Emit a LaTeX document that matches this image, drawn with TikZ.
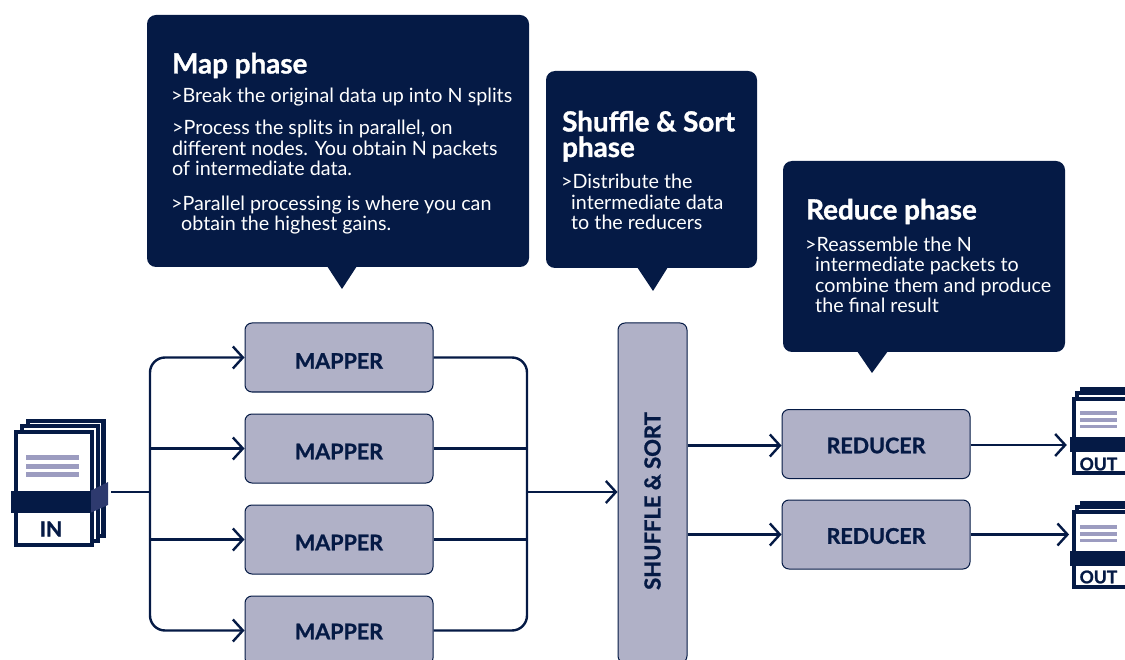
\documentclass[tikz,border=0pt]{standalone}
\usepackage{fontspec}
\setmainfont{Lato}[BoldFeatures={FakeBold=1.2}]
\usetikzlibrary{arrows.meta}
\definecolor{navy}{HTML}{051A45}
\definecolor{boxfill}{HTML}{B0B1C7}
\definecolor{linefill}{HTML}{9C9CC0}
\definecolor{bandside}{HTML}{2E3A6E}
\newcommand{\lowertext}[2]{\raisebox{-#1}[15.5pt][0pt]{#2}}
\tikzset{
  x=1pt,y=-1pt,
  callout/.style={fill=navy,draw=none,rounded corners=9pt},
  title/.style={anchor=base west,inner sep=0pt,text=white,align=left,font=\fontsize{27.8}{25.5}\selectfont\bfseries},
  body/.style={anchor=base west,inner sep=0pt,text=white,align=left,font=\fontsize{19.7}{20.5}\selectfont},
  procbox/.style={fill=boxfill,draw=navy,line width=1pt,rounded corners=7pt,minimum width=188pt,minimum height=69pt,inner sep=0pt,text=navy,font=\fontsize{21.5}{21.5}\selectfont\bfseries},
  conn/.style={draw=navy,line width=2.4pt},
  arr/.style={conn,-{Straight Barb[length=10pt,width=22pt,line width=2.4pt]}},
  page/.style={fill=white,draw=navy,line width=3.8pt,inner sep=0pt},
  band/.style={fill=navy,draw=none,inner sep=0pt},
  rule/.style={fill=linefill,draw=none},
  doclabel/.style={inner sep=0pt,text=navy,font=\fontsize{21}{21}\selectfont\bfseries}
}
\begin{document}
\begin{tikzpicture}
\useasboundingbox (0,0) rectangle (1125,660);
\clip (0,0) rectangle (1125,660);
% callouts
\fill[callout] (147,15) rectangle (529,267);
\fill[navy] (327,266) -- (357,266) -- (342,289) -- cycle;
\fill[callout] (546,71) rectangle (757,268);
\fill[navy] (637,267) -- (668,267) -- (653,291) -- cycle;
\fill[callout] (783,161) rectangle (1065,352);
\fill[navy] (857,351) -- (888,351) -- (872,373) -- cycle;
% map text
\node[title] (t1) at (172,73.5) {Map phase};
\node[body] (b1) at (171,103) {>Break the original data up into N splits};
\node[body] (b2) at (172,176) {>Process the splits in parallel, on\\different nodes. You obtain N packets\\of intermediate data.};
\node[body] (b3) at (171,231) {>Parallel processing is where you can\\\hspace*{10pt}obtain the highest gains.};
% shuffle text
\node[title] (t2) at (562,157) {Shuffle \& Sort\\phase};
\node[body] (b4) at (561,230) {>Distribute the\\\hspace*{10pt}intermediate data\\\hspace*{10pt}to the reducers};
% reduce text
\node[title] (t3) at (806,219.5) {Reduce phase};
\node[body] (b5) at (805,313) {>Reassemble the N\\\hspace*{10pt}intermediate packets to\\\hspace*{10pt}combine them and produce\\\hspace*{10pt}the final result};
% boxes
\node[procbox] (m1) at (339,357.5) {\lowertext{3.5pt}{MAPPER}};
\node[procbox] (m2) at (339,448.5) {\lowertext{3pt}{MAPPER}};
\node[procbox] (m3) at (339,539.5) {\lowertext{3pt}{MAPPER}};
\node[procbox] (m4) at (339,630.5) {\lowertext{1pt}{MAPPER}};
\node[procbox,minimum width=69pt,minimum height=340pt,font=\fontsize{22}{22}\selectfont\bfseries] (sh) at (652.5,493) {\rotatebox{90}{\hspace*{-16pt}SHUFFLE \& SORT}};
\node[procbox] (r1) at (876,444) {\lowertext{1.5pt}{REDUCER}};
\node[procbox] (r2) at (876,534.5) {\lowertext{1.5pt}{REDUCER}};
% IN stack
\filldraw[page,line width=4.2pt] (28,421) rectangle (103.5,536);
\filldraw[page] (22,426) rectangle (98,541);
\node[page,minimum width=76pt,minimum height=113pt] (inp) at (54,488.5) {};
\fill[rule] (26,455) rectangle (79,460);
\fill[rule] (26,463.5) rectangle (79,468.5);
\fill[rule] (26,472) rectangle (79,477);
\fill[bandside] (90,491) -- (108,482) -- (108,505) -- (90,513) -- cycle;
\node[band,minimum width=80pt,minimum height=22pt] (inb) at (51,502) {};
\node[doclabel] (inl) at (51,529) {IN};
% OUT stacks
\filldraw[page] (1082,389) rectangle (1140,470);
\filldraw[page] (1077,393) rectangle (1140,472);
\node[page,minimum width=68pt,minimum height=74pt] (o1) at (1108,436) {};
\fill[rule] (1080,411) rectangle (1117,415);
\fill[rule] (1080,418) rectangle (1117,422);
\fill[rule] (1080,425) rectangle (1117,428);
\node[band,minimum width=70pt,minimum height=15pt] (o1b) at (1105,444.5) {};
\node[doclabel,font=\fontsize{17.5}{17.5}\selectfont\bfseries] (o1l) at (1098.5,464) {OUT};
\filldraw[page] (1082,503) rectangle (1140,584);
\filldraw[page] (1077,507) rectangle (1140,586);
\node[page,minimum width=68pt,minimum height=75pt] (o2) at (1108,549.5) {};
\fill[rule] (1080,525) rectangle (1117,529);
\fill[rule] (1080,532) rectangle (1117,536);
\fill[rule] (1080,539) rectangle (1117,542);
\node[band,minimum width=70pt,minimum height=15pt] (o2b) at (1105,558.5) {};
\node[doclabel,font=\fontsize{17.5}{17.5}\selectfont\bfseries] (o2l) at (1098.5,577) {OUT};
% connectors
\coordinate (busl) at (150,492);
\coordinate (busr) at (527,492);
\coordinate (inout) at (111,492);
\draw[conn] (inout) -- (busl);
\draw[arr,rounded corners=15pt] (busl) |- (m1.west);
\draw[arr] (busl |- m2.west) -- (m2.west);
\draw[arr] (busl |- m3.west) -- (m3.west);
\draw[arr,rounded corners=15pt] (busl) |- (m4.west);
\draw[conn,rounded corners=15pt] (m1.east) -| (busr);
\draw[conn] (m2.east) -- (busr |- m2.east);
\draw[conn] (m3.east) -- (busr |- m3.east);
\draw[conn,rounded corners=15pt] (m4.east) -| (busr);
\draw[arr] (busr) -- (sh.west |- busr);
\draw[arr] ([yshift=-1.5pt]sh.east |- r1.west) -- ([yshift=-1.5pt]r1.west);
\draw[arr] (sh.east |- r2.west) -- (r2.west);
\draw[arr] ([yshift=-1pt]r1.east) -- ([xshift=-3pt,yshift=-1pt]r1.east -| o1b.west);
\draw[arr] (r2.east) -- ([xshift=-3pt]r2.east -| o2.west);
\end{tikzpicture}
\end{document}
